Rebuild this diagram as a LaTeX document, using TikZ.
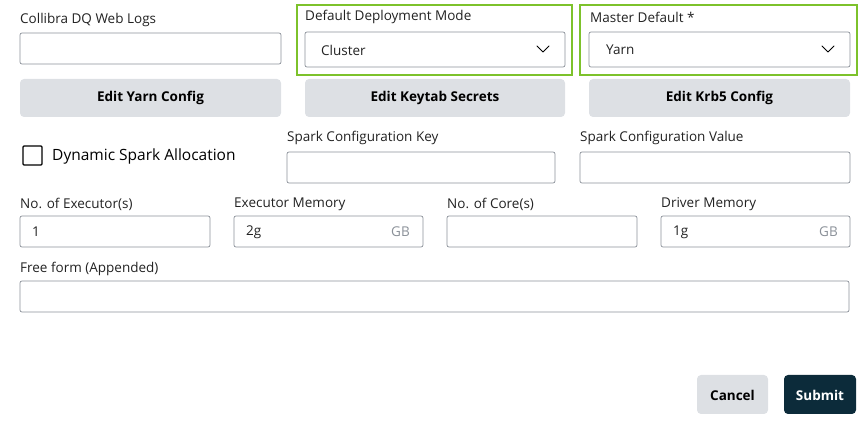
\documentclass[tikz,border=0pt]{standalone}
\usepackage{fontspec}
\setmainfont{Open Sans}
\definecolor{fieldgray}{HTML}{8A9098}
\definecolor{btngray}{HTML}{DDE0E4}
\definecolor{hlgreen}{HTML}{7DC22B}
\definecolor{navy}{HTML}{0C2B3A}
\definecolor{txt}{HTML}{222222}
\begin{document}
\begin{tikzpicture}[x=1pt,y=-1pt,font=\fontsize{13.5}{16}\selectfont\color{txt}]
        \tikzset{field/.style = {draw=fieldgray,rounded corners=2pt,line width=0.7pt}}
        \tikzset{lbl/.style = {anchor=west,inner sep=0}}
        \tikzset{btn/.style = {fill=btngray,rounded corners=4pt}}
        \tikzset{bold/.style = {font=\fontsize{13.5}{16}\selectfont\bfseries}}
        \tikzset{chev/.style = {line width=0.8pt,line cap=round,line join=round}}
        \useasboundingbox (0,0) rectangle (865,427);
        % highlight frames
        \draw[hlgreen,line width=2pt] (297,5) rectangle (572,75);
        \draw[hlgreen,line width=2pt] (580,5) rectangle (857,75);
        % first row
        \node[lbl] (weblogs) at (20,20) {Collibra DQ Web Logs};
        \draw[field] (20,33) rectangle (281,64);
        \node[lbl] (deploy) at (305,17) {Default Deployment Mode};
        \draw[field] (305,32) rectangle (565,67);
        \node[lbl] (cluster) at (321,50) {Cluster};
        \draw[chev] (537,46) -- (543,52) -- (549,46);
        \node[lbl] (master) at (590,17) {Master Default *};
        \draw[field] (589,32) rectangle (850,67);
        \node[lbl] (yarn) at (606,50) {Yarn};
        \draw[chev] (822,46) -- (828,52) -- (834,46);
        % buttons
        \fill[btn] (20,79) rectangle (281,117);
        \node[bold] (yarncfg) at (150.5,98) {Edit Yarn Config};
        \fill[btn] (305,79) rectangle (565,117);
        \node[bold] (keytab) at (435,98) {Edit Keytab Secrets};
        \fill[btn] (589,79) rectangle (850,117);
        \node[bold] (krb5) at (719.5,98) {Edit Krb5 Config};
        % spark row
        \draw[line width=1.4pt,rounded corners=1pt] (23,146) rectangle (42,165);
        \node[lbl,font=\fontsize{15.5}{18}\selectfont] (dynamic) at (52,156) {Dynamic Spark Allocation};
        \node[lbl] (sparkkey) at (287,138) {Spark Configuration Key};
        \draw[field] (287,152) rectangle (555,183);
        \node[lbl] (sparkval) at (580,138) {Spark Configuration Value};
        \draw[field] (580,152) rectangle (850,183);
        % executor row
        \node[lbl] (executors) at (20,204) {No. of Executor(s)};
        \draw[field] (20,216) rectangle (210,247);
        \node[lbl] (one) at (32,232) {1};
        \node[lbl] (exmem) at (234,204) {Executor Memory};
        \draw[field] (234,216) rectangle (423,247);
        \node[lbl] (twog) at (246,232) {2g};
        \node[anchor=east,inner sep=0,text=fieldgray] (gbone) at (410,232) {GB};
        \node[lbl] (cores) at (447,204) {No. of Core(s)};
        \draw[field] (447,216) rectangle (637,247);
        \node[lbl] (drmem) at (661,204) {Driver Memory};
        \draw[field] (661,216) rectangle (850,247);
        \node[lbl] (oneg) at (673,232) {1g};
        \node[anchor=east,inner sep=0,text=fieldgray] (gbtwo) at (838,232) {GB};
        % free form
        \node[lbl] (freeform) at (20,269) {Free form (Appended)};
        \draw[field] (20,281) rectangle (849,312);
        % actions
        \fill[btn] (697,375) rectangle (768,414);
        \node[bold] (cancel) at (732.5,395) {Cancel};
        \fill[navy,rounded corners=4pt] (784,375) rectangle (856,414);
        \node[bold,text=white] (submit) at (820,395) {Submit};
\end{tikzpicture}
\end{document}
